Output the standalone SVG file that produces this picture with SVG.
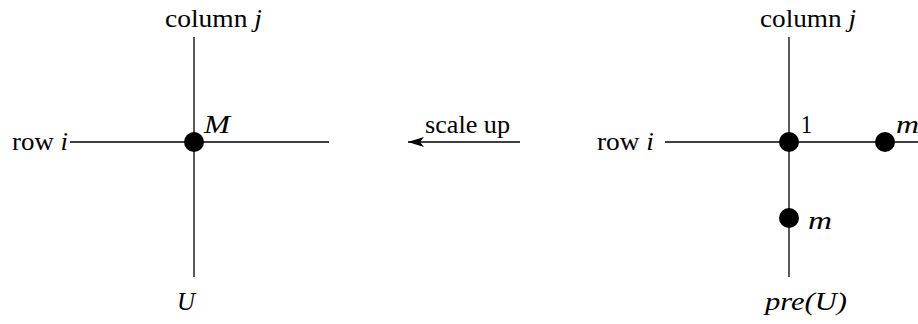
<svg xmlns="http://www.w3.org/2000/svg" width="918" height="324" viewBox="0 0 918 324">
<style>
.ln{stroke:#000;stroke-width:1.3;fill:none}
text{font-family:'Liberation Serif','Times New Roman',serif;font-size:26px;fill:#000}
.i{font-style:italic}
.dot{fill:#000}
</style>
<defs>
<marker id="ah" markerWidth="16" markerHeight="10" refX="16" refY="5" orient="auto" markerUnits="userSpaceOnUse">
<path d="M0,0 L16,5 L0,10 L4,5 Z" fill="#000"/>
</marker>
</defs>
<rect width="918" height="324" fill="#fff"/>
<g id="connectors">
<line class="ln" x1="194" y1="37" x2="194" y2="277"/>
<line class="ln" x1="70" y1="142" x2="329" y2="142"/>
<line class="ln" x1="789" y1="37" x2="789" y2="277"/>
<line class="ln" x1="665" y1="142" x2="918" y2="142"/>
<line class="ln" x1="520" y1="142" x2="408" y2="142" marker-end="url(#ah)"/>
</g>
<g id="left-grid">
<text x="165" y="27" textLength="97" lengthAdjust="spacingAndGlyphs">column <tspan class="i">j</tspan></text>
<text x="12" y="150" textLength="56" lengthAdjust="spacingAndGlyphs">row <tspan class="i">i</tspan></text>
<text class="i" x="177" y="310" textLength="18" lengthAdjust="spacingAndGlyphs">U</text>
</g>
<g id="node-M">
<circle class="dot" cx="194" cy="142" r="10"/>
<text class="i" x="204" y="133" textLength="26" lengthAdjust="spacingAndGlyphs">M</text>
</g>
<g id="arrow-label">
<text x="425" y="133" textLength="85" lengthAdjust="spacingAndGlyphs">scale up</text>
</g>
<g id="right-grid">
<text x="760" y="27" textLength="96" lengthAdjust="spacingAndGlyphs">column <tspan class="i">j</tspan></text>
<text x="597" y="150" textLength="57" lengthAdjust="spacingAndGlyphs">row <tspan class="i">i</tspan></text>
<text class="i" x="765" y="310" textLength="82" lengthAdjust="spacingAndGlyphs">pre(U)</text>
</g>
<g id="node-1">
<circle class="dot" cx="789" cy="142" r="10"/>
<text x="801" y="133" textLength="11" lengthAdjust="spacingAndGlyphs">1</text>
</g>
<g id="node-m-right">
<circle class="dot" cx="885" cy="142" r="10"/>
<text class="i" x="896" y="133" textLength="23" lengthAdjust="spacingAndGlyphs">m</text>
</g>
<g id="node-m-down">
<circle class="dot" cx="789" cy="218" r="10"/>
<text class="i" x="808" y="229" textLength="24" lengthAdjust="spacingAndGlyphs">m</text>
</g>
</svg>
